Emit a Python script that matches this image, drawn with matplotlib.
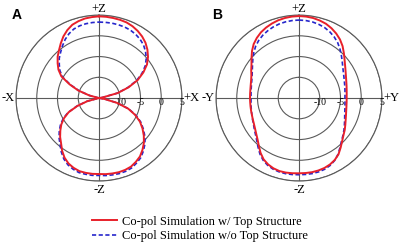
import numpy as np
import matplotlib.pyplot as plt

plt.rcParams['font.family'] = ['Liberation Serif', 'DejaVu Serif']

# angles measured clockwise from +Z, every 5 degrees
angles_deg = list(range(0, 360, 5))

# Panel A (X-Z cut), gain in dB
a_with_top = [4.69, 4.66, 4.59, 4.52, 4.4, 4.1, 3.67, 3.12, 2.42, 1.5,
              0.42, -0.88, -2.66, -4.69, -7.39, -10.3, -14.0, -15, -15, -15,
              -13.6, -10.5, -7.5, -5.4, -3.6, -2.2, -0.9, 0.3, 1.3, 2.2,
              2.76, 3.24, 3.43, 3.5, 3.46, 3.41, 3.31, 3.34, 3.31, 3.24,
              2.9, 2.4, 1.6, 0.5, -0.78, -1.75, -2.83, -3.92, -5.24, -6.93,
              -9.46, -12.1, -15, -15, -15, -15, -15, -12.6, -9.7, -7.17,
              -4.52, -3.07, -1.99, -0.9, 0.01, 1.07, 2.16, 3.07, 3.8, 4.18,
              4.47, 4.59]
a_without_top = [3.31, 3.31, 3.31, 3.27, 3.19, 3.02, 2.71, 2.28, 1.7, 0.86,
                 -0.13, -1.36, -3.02, -4.98, -7.63, -10.42, -14.16, -15, -15, -15,
                 -13.5, -10.4, -7.4, -5.15, -3.35, -1.95, -0.55, 0.65, 1.65, 2.55,
                 3.1, 3.6, 3.8, 3.85, 3.8, 3.75, 3.65, 3.7, 3.65, 3.6,
                 3.25, 2.75, 1.95, 0.85, -0.4, -1.4, -2.5, -3.65, -5.0, -6.75,
                 -9.35, -12.0, -15, -15, -15, -15, -15, -12.7, -9.9, -7.4,
                 -4.85, -3.5, -2.5, -1.45, -0.6, 0.35, 1.31, 2.11, 2.71, 3.02,
                 3.19, 3.27]

# Panel B (Y-Z cut), gain in dB
b_with_top = [4.76, 4.71, 4.59, 4.35, 4.04, 3.55, 2.95, 2.23, 1.34, 0.3,
              -0.66, -1.43, -2.04, -2.52, -2.88, -3.14, -3.34, -3.46, -3.51, -3.48,
              -3.39, -3.22, -2.95, -2.59, -2.11, -1.55, -1.02, -0.3, 0.61, 1.58,
              2.23, 2.66, 2.93, 3.07, 3.14, 3.14, 3.14, 3.19, 3.24, 3.22,
              3.02, 2.64, 2.06, 1.14, 0.06, -0.88, -1.55, -2.08, -2.47, -2.73,
              -2.93, -3.05, -3.14, -3.19, -3.19, -3.17, -3.1, -2.95, -2.71, -2.33,
              -1.7, -1.02, -0.06, 1.02, 1.99, 2.71, 3.31, 3.75, 4.11, 4.4,
              4.59, 4.71]
b_without_top = [3.8, 3.75, 3.63, 3.39, 3.07, 2.59, 1.99, 1.27, 0.37, -0.54,
                 -1.39, -2.11, -2.64, -3.05, -3.36, -3.58, -3.75, -3.87, -3.92, -3.87,
                 -3.75, -3.55, -3.27, -2.86, -2.35, -1.75, -1.14, -0.47, 0.42, 1.46,
                 2.3, 2.88, 3.24, 3.41, 3.48, 3.48, 3.48, 3.51, 3.51, 3.43,
                 3.24, 2.88, 2.3, 1.43, 0.37, -0.59, -1.31, -1.87, -2.33, -2.66,
                 -2.93, -3.12, -3.27, -3.39, -3.43, -3.39, -3.29, -3.12, -2.88, -2.52,
                 -1.99, -1.31, -0.47, 0.42, 1.27, 1.94, 2.47, 2.88, 3.22, 3.48,
                 3.65, 3.75]

r_ticks = [-10, -5, 0, 5]
grid_col = '#5a5a5a'
red = '#e8202a'
blue = '#2626cc'


def closed(vals):
    return np.append(vals, vals[0])


theta = closed(np.deg2rad(angles_deg))


def draw_panel(ax, with_top, without_top, left_lbl, right_lbl):
    ax.set_theta_zero_location('N')
    ax.set_theta_direction(-1)
    ax.set_ylim(-15, 5)
    ax.set_yticks(r_ticks)
    ax.set_yticklabels([])
    ax.set_xticks(np.deg2rad([0, 90, 180, 270]))
    ax.set_xticklabels([])
    ax.grid(True, color=grid_col, lw=0.8)
    ax.spines['polar'].set_color(grid_col)
    ax.spines['polar'].set_linewidth(0.8)

    ax.plot(theta, closed(with_top), color=red, lw=1.4, zorder=4)
    ax.plot(theta, closed(without_top), color=blue, lw=1.2,
            ls=(0, (2.5, 1.5)), zorder=3)

    for v in r_ticks:
        ax.text(np.pi / 2, v, str(v), ha='center', va='top', fontsize=7)
    ax.text(0, 5, '+Z', ha='center', va='bottom', fontsize=9)
    ax.text(np.pi, 5.6, '-Z', ha='center', va='top', fontsize=9)
    ax.text(np.pi / 2, 5.3, right_lbl, ha='left', va='center', fontsize=9)
    ax.text(3 * np.pi / 2, 5.3, left_lbl, ha='right', va='center', fontsize=9)


fig = plt.figure(figsize=(4, 2.43), dpi=100)
ax_a = fig.add_axes([0.04, 0.255, 0.415, 0.683], projection='polar')
ax_b = fig.add_axes([0.54, 0.255, 0.415, 0.683], projection='polar')

draw_panel(ax_a, a_with_top, a_without_top, '-X', '+X')
draw_panel(ax_b, b_with_top, b_without_top, '-Y', '+Y')

fig.text(0.03, 0.967, 'A', family='Liberation Sans', weight='bold',
         fontsize=10, va='top')
fig.text(0.53, 0.967, 'B', family='Liberation Sans', weight='bold',
         fontsize=10, va='top')

h_red, = ax_a.plot([], [], color=red, lw=1.4)
h_blue, = ax_a.plot([], [], color=blue, lw=1.2, ls=(0, (2.5, 1.5)))
fig.legend([h_red, h_blue],
           ['Co-pol Simulation w/ Top Structure',
            'Co-pol Simulation w/o Top Structure'],
           loc='upper left', bbox_to_anchor=(0.23, 0.113), frameon=False,
           fontsize=9, handlelength=2.0, handletextpad=0.4,
           labelspacing=0.2, borderpad=0, borderaxespad=0)

fig.savefig('out.png', dpi=100)
